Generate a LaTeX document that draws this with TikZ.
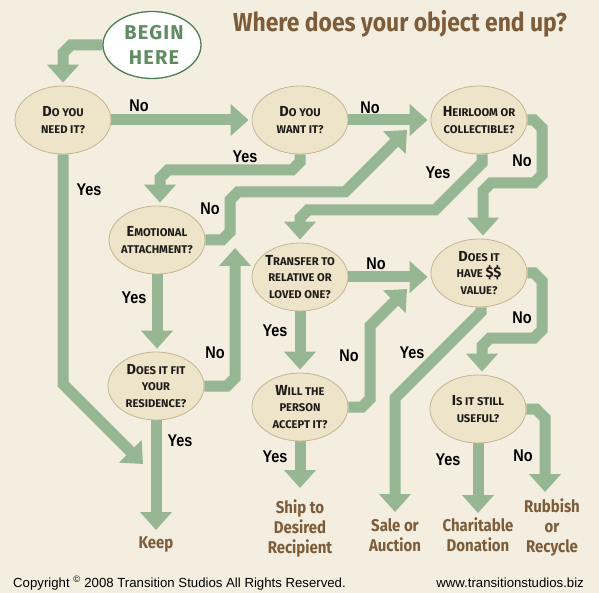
\documentclass[tikz,border=0pt]{standalone}
\usepackage{fontspec}
\setmainfont{Fira Sans}
\usetikzlibrary{arrows.meta,shapes.geometric}
\newfontfamily\qfont{Fira Sans}
\newfontfamily\brfont[FakeStretch=0.88]{Fira Sans}
\newfontfamily\ynfont[FakeStretch=0.85]{Liberation Sans}
\newfontfamily\ftfont{Liberation Sans}
\newfontfamily\bgfont[LetterSpace=6]{Fira Sans}
\definecolor{bgc}{RGB}{243,238,223}
\definecolor{qfill}{RGB}{237,228,201}
\definecolor{qline}{RGB}{196,182,146}
\definecolor{arr}{RGB}{150,182,148}
\definecolor{brn}{RGB}{125,92,58}
\definecolor{dkgreen}{RGB}{80,125,88}
\definecolor{bgreen}{RGB}{96,140,100}
\definecolor{txt}{RGB}{30,28,24}
\newcommand\QC[1]{{\fontsize{14.5}{16.5}\selectfont #1}}
\pgfdeclarelayer{back}
\pgfsetlayers{back,main}
\begin{document}
\begin{tikzpicture}[x=1pt,y=-1pt,
  q/.style={ellipse, draw=qline, line width=0.8pt, fill=qfill, minimum width=96pt, minimum height=68pt, inner sep=0pt},
  qt/.style={inner sep=0pt, align=center, text=txt, font=\qfont\bfseries\fontsize{11.2}{16.5}\selectfont},
  flow/.style={draw=arr, line width=11pt, line join=miter, -{Triangle[width=31pt,length=18pt]}, shorten >=3pt},
  free/.style={shorten >=0pt},
  yn/.style={font=\ynfont\bfseries\fontsize{17}{17}\selectfont, text=black, inner sep=0pt},
  outc/.style={font=\brfont\bfseries\fontsize{17}{20}\selectfont, text=brn, align=center, inner sep=0pt, anchor=north},
  foot/.style={font=\ftfont\fontsize{13.2}{14}\selectfont, text=black, inner sep=0pt},
]
\useasboundingbox (0,0) rectangle (599,593);
\begin{pgfonlayer}{back}
\fill[bgc] (0,0) rectangle (599,593);
\end{pgfonlayer}

% title
\node[font=\brfont\bfseries\fontsize{26}{26}\selectfont, text=brn, anchor=base west, inner sep=0pt] (title) at (233,32) {Where does your object end up?};

% begin
\node[ellipse, draw=dkgreen, line width=1.3pt, fill=white, minimum width=98pt, minimum height=67pt, inner sep=0pt] (begin) at (152,45) {};
\node[align=center, inner sep=0pt, text=bgreen, font=\bgfont\bfseries\fontsize{20}{25}\selectfont] (begin-t) at (154,45) {BEGIN\\HERE};

% questions
\node[q] (need) at (63,120) {};
\node[qt] (need-t) at (need) {\QC{D}O YOU\\NEED IT?};
\node[q] (want) at (300,120) {};
\node[qt] (want-t) at (want) {\QC{D}O YOU\\WANT IT?};
\node[q] (heir) at (479,120) {};
\node[qt] (heir-t) at (heir) {\QC{H}EIRLOOM OR\\COLLECTIBLE?};
\node[q] (emo) at (157,240) {};
\node[qt] (emo-t) at (emo) {\QC{E}MOTIONAL\\ATTACHMENT?};
\node[q] (fit) at (156,386) {};
\node[qt] (fit-t) at (fit) {\QC{D}OES IT FIT\\YOUR\\RESIDENCE?};
\node[q] (trans) at (300,277) {};
\node[qt] (trans-t) at (trans) {\QC{T}RANSFER TO\\RELATIVE OR\\LOVED ONE?};
\node[q] (will) at (300,407) {};
\node[qt] (will-t) at (will) {\QC{W}ILL THE\\PERSON\\ACCEPT IT?};
\node[q] (value) at (479,273) {};
\node[qt] (value-t) at (value) {\QC{D}OES IT\\HAVE \QC{\$\$}\\VALUE?};
\node[q] (useful) at (478,409) {};
\node[qt] (useful-t) at (useful) {\QC{I}S IT STILL\\USEFUL?};

% outcomes
\node[outc] (keep) at (156,537) {Keep};
\node[outc] (ship) at (300,500) {Ship to\\Desired\\Recipient};
\node[outc] (sale) at (395,518) {Sale or\\Auction};
\node[outc] (char) at (478,518) {Charitable\\Donation};
\node[outc] (rubbish) at (552,499) {Rubbish\\or\\Recycle};

% merge points
\coordinate (keepmerge) at (143,464);
\coordinate (emomerge) at (407,130);
\coordinate (fitmerge) at (235,248);
\coordinate (willmerge) at (407,289);

\begin{pgfonlayer}{back}
\draw[flow] (begin.west) -- (71,45) -- (63,53) -- (need.north);
\draw[flow] (need.east) -- (want.west);
\draw[flow] (want.east) -- (heir.west);
\draw[flow,free] (need.south) -- (63,384) -- (keepmerge);
\draw[flow] (want.south) -- (300,162) -- (292,170) -- (168,170) -- (160,178) -- ([xshift=3pt]emo.north);
\draw[flow,free] (emo.east) -- (222,240) -- (230,232) -- (230,200) -- (238,192) -- (345,192) -- (emomerge);
\draw[flow] ([xshift=3pt]heir.south) -- (482,163) -- (435,210) -- (308,210) -- (300,218) -- (trans.north);
\draw[flow] (heir.east) -- (534,120) -- (542,128) -- (542,175) -- (534,183) -- (491,183) -- (483,191) -- ([xshift=4pt]value.north);
\draw[flow] (emo.south) -- (emo.south |- fit.north);
\draw[flow,free] (fit.east) -- (227,386) -- (235,378) -- (fitmerge);
\draw[flow,shorten >=7pt] (fit.south) -- (keep.north);
\draw[flow] (trans.east) -- (value.west |- trans.east);
\draw[flow] (trans.south) -- (trans.south |- will.north);
\draw[flow,free] (will.east) -- (362,407) -- (370,399) -- (370,326) -- (willmerge);
\draw[flow,shorten >=12pt] (will.south) -- (ship.north);
\draw[flow,shorten >=6pt] ([xshift=2pt]value.south) -- (481,312) -- (395,398) -- (sale.north);
\draw[flow] (value.east) -- (534,273) -- (542,281) -- (542,330) -- (534,338) -- (490,338) -- (482,346) -- ([xshift=4pt]useful.north);
\draw[flow,shorten >=5pt] (useful.south) -- (char.north);
\draw[flow,shorten >=7pt] (useful.east) -- (536,409) -- (545,418) -- ([xshift=-7pt]rubbish.north);
\end{pgfonlayer}

% yes / no labels
\node[yn] (l1) at (139,106) {No};
\node[yn] (l2) at (89,190) {Yes};
\node[yn] (l3) at (370,108) {No};
\node[yn] (l4) at (245,157) {Yes};
\node[yn] (l5) at (210,209) {No};
\node[yn] (l6) at (438,173) {Yes};
\node[yn] (l7) at (522,161) {No};
\node[yn] (l8) at (134,298) {Yes};
\node[yn] (l9) at (215,353) {No};
\node[yn] (l10) at (180,441) {Yes};
\node[yn] (l11) at (376,264) {No};
\node[yn] (l12) at (275,331) {Yes};
\node[yn] (l13) at (349,356) {No};
\node[yn] (l14) at (275,457) {Yes};
\node[yn] (l15) at (412,353) {Yes};
\node[yn] (l16) at (522,318) {No};
\node[yn] (l17) at (448,460) {Yes};
\node[yn] (l18) at (523,456) {No};

% footer
\node[foot, anchor=base west] (copy) at (13,587) {Copyright \textsuperscript{©} 2008 Transition Studios All Rights Reserved.};
\node[foot, anchor=base east] (web) at (584,587) {www.transitionstudios.biz};
\end{tikzpicture}
\end{document}
